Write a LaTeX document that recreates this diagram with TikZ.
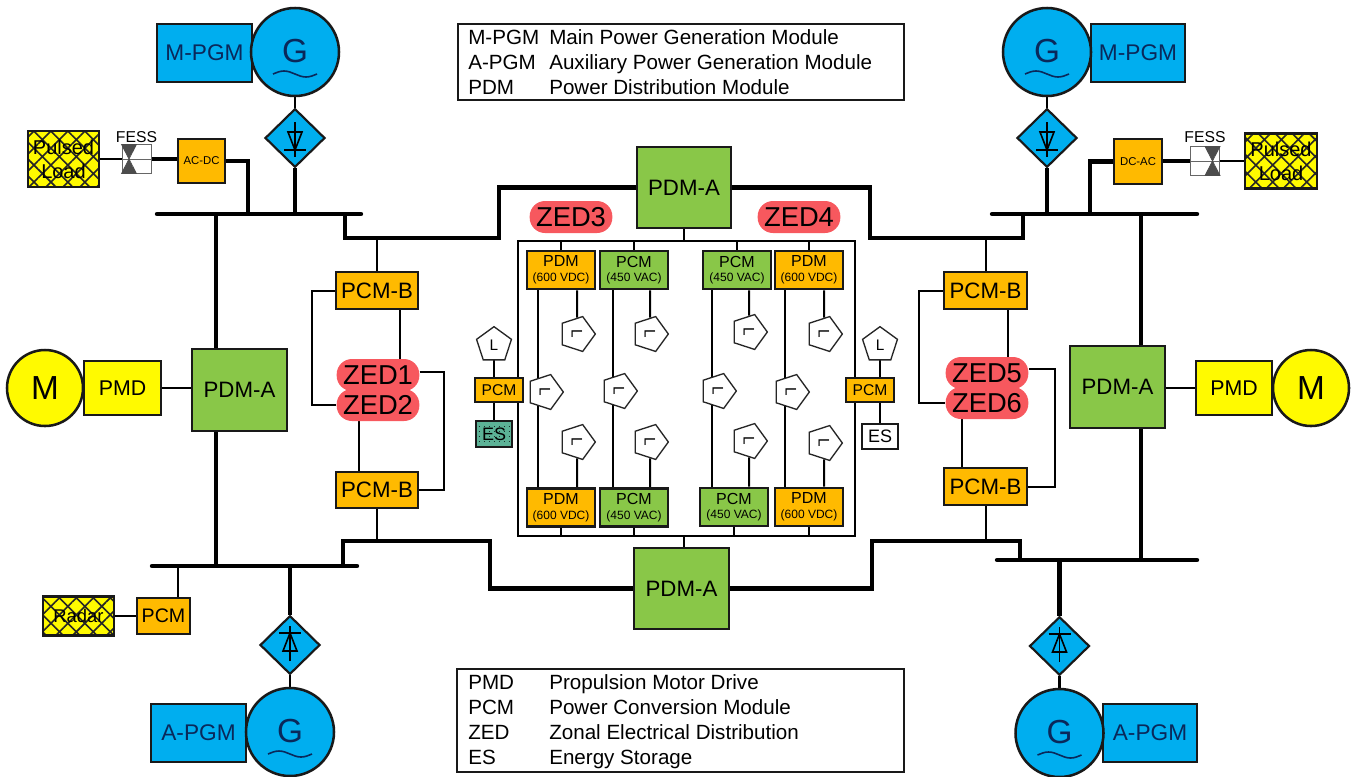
\documentclass[tikz,border=0pt]{standalone}
\usepackage{fontspec}
\setmainfont{Liberation Sans}
\usetikzlibrary{shapes.geometric,patterns.meta,backgrounds}
\definecolor{cpgm}{RGB}{0,174,239}
\definecolor{cconv}{RGB}{255,186,0}
\definecolor{cdist}{RGB}{137,199,72}
\definecolor{czed}{RGB}{247,88,94}
\definecolor{cmotor}{RGB}{255,250,0}
\definecolor{cstore}{RGB}{92,178,150}
\definecolor{cnavy}{RGB}{10,40,90}
\newcommand{\fs}[1]{\fontsize{#1}{#1}\selectfont}
\tikzset{
  pxgrid/.style={x=0.75pt,y=-0.75pt},
  sz/.style 2 args={minimum width=#1*0.75pt,minimum height=#2*0.75pt},
  blk/.style={draw=black!90,line width=1.9pt,inner sep=0pt,align=center},
  gen/.style={circle,draw=black!90,line width=1.9pt,fill=cpgm,inner sep=0pt,minimum size=66pt,font=\fs{25},text=cnavy},
  motor/.style={circle,draw=black!90,line width=1.9pt,fill=cmotor,inner sep=0pt,minimum size=57pt,font=\fs{25}},
  rectf/.style={diamond,draw=black!90,line width=1.6pt,fill=cpgm,inner sep=0pt,minimum width=45pt,minimum height=44pt},
  loadp/.style={regular polygon,regular polygon sides=5,draw=black!85,line width=1pt,fill=white,inner sep=0pt,minimum size=27.5pt,font=\fs{11.5}},
  zed/.style={fill=czed,rounded corners=11.5pt,inner sep=0pt,minimum width=62pt,minimum height=24pt,font=\fs{20.5}},
  hatched/.style={blk,preaction={fill=cmotor},pattern={Hatch[angle=45,distance=9pt,line width=1.2pt]},pattern color=black!85},
  fess/.style={draw=black!60,line width=.6pt,fill=white,inner sep=0pt,minimum size=21.8pt},
  power/.style={line width=3.3pt,line cap=butt},
  feed/.style={line width=1.5pt},
  legtxt/.style={anchor=base west,inner sep=0pt,font=\fs{15.45}}
}

\begin{document}
\begin{tikzpicture}[pxgrid]
    \useasboundingbox (0,0) rectangle (1358,776);
    % generators
    \node[blk,fill=cpgm,text=cnavy,sz={95}{58},font=\fs{17}] (mpgml) at (204.5,53) {M-PGM};
    \node[blk,fill=cpgm,text=cnavy,sz={94}{58},font=\fs{17}] (mpgmr) at (1138,53) {M-PGM};
    \node[blk,fill=cpgm,text=cnavy,sz={95}{58},font=\fs{17}] (apgml) at (198.5,733) {A-PGM};
    \node[blk,fill=cpgm,text=cnavy,sz={94}{58},font=\fs{17}] (apgmr) at (1150,733) {A-PGM};
    \node[gen] (gentl) at (295,52) {\raisebox{1pt}{G}};
    \node[gen] (gentr) at (1047,52) {\raisebox{1pt}{G}};
    \node[gen] (genbl) at (290,732) {\raisebox{1pt}{G}};
    \node[gen] (genbr) at (1059.5,733) {\raisebox{1pt}{G}};
    \node[rectf] (rectl) at (295,138) {};
    \node[rectf] (rectr) at (1047,138) {};
    \node[rectf] (rectbl) at (290,645) {};
    \node[rectf] (rectbr) at (1059.5,646) {};
    % motors
    \node[motor] (motl) at (45,388) {M};
    \node[motor] (motr) at (1311,388) {M};
    \node[blk,fill=cmotor,sz={77}{54},font=\fs{16}] (pmdl) at (122.5,388) {PMD};
    \node[blk,fill=cmotor,sz={76}{54},font=\fs{16}] (pmdr) at (1234,388) {PMD};
    % distribution modules
    \node[blk,fill=cdist,sz={95}{82},font=\fs{16.7}] (pdml) at (239.5,390) {PDM-A};
    \node[blk,fill=cdist,sz={95}{82},font=\fs{16.7}] (pdmr) at (1117.5,387) {PDM-A};
    \node[blk,fill=cdist,sz={94}{81},font=\fs{16.7}] (pdmt) at (684,187.5) {PDM-A};
    \node[blk,fill=cdist,sz={95}{81},font=\fs{16.7}] (pdmb) at (681.5,588.5) {PDM-A};
    % pcm-b and zones
    \node[blk,fill=cconv,sz={82}{37},font=\fs{16.7}] (pcmbtl) at (377,290.5) {PCM-B};
    \node[blk,fill=cconv,sz={82}{36},font=\fs{16.7}] (pcmbbl) at (377,490) {PCM-B};
    \node[blk,fill=cconv,sz={83}{37},font=\fs{16.7}] (pcmbtr) at (985.5,290.5) {PCM-B};
    \node[blk,fill=cconv,sz={83}{37},font=\fs{16.7}] (pcmbbr) at (985.5,486.5) {PCM-B};
    \node[zed] (zedb) at (378,405) {ZED2};
    \node[zed] (zeda) at (378,375) {ZED1};
    \node[zed] (zedf) at (987,403) {ZED6};
    \node[zed] (zede) at (987,373) {ZED5};
    \node[zed] (zedc) at (571,217) {ZED3};
    \node[zed] (zedd) at (799,217) {ZED4};
    % centre modules
    \foreach \nm/\x/\y/\t/\f/\s in {
      topa/561/270/PDM/cconv/600 VDC,topb/634/270/PCM/cdist/450 VAC,
      topc/737/270/PCM/cdist/450 VAC,topd/809/270/PDM/cconv/600 VDC,
      bota/561/507.5/PDM/cconv/600 VDC,botb/634/507.5/PCM/cdist/450 VAC,
      botc/734/507/PCM/cdist/450 VAC,botd/809/507/PDM/cconv/600 VDC}
      \node[blk,fill=\f,sz={68}{38},font=\fs{12}] (\nm) at (\x,\y) {\t\\[-1pt]{\fs{9}(\s)}};
    \foreach \nm/\x/\y in {
      upa/577/334,upb/650/334,upc/749/332,upd/824/334,
      loa/577/442,lob/650/442,loc/749/441,lod/824/443,
      mida/545/392,midb/619/391,midc/718/391,midd/791/392}
      \node[loadp,rotate=-90] (\nm) at (\x,\y) {L};
    % side storage
    \node[loadp] (loadl) at (494,345) {L};
    \node[loadp] (loadr) at (880,345) {L};
    \node[blk,fill=cconv,sz={48}{24},font=\fs{11.7}] (pcml) at (499,390) {PCM};
    \node[blk,fill=cconv,sz={48}{24},font=\fs{11.7}] (pcmr) at (870,390) {PCM};
    \node[blk,line width=1.3pt,preaction={fill=cstore},pattern={Dots[distance=4pt,radius=.35pt]},sz={36}{26},font=\fs{13.5}] (esl) at (494,434) {ES};
    \node[blk,line width=1.3pt,fill=white,sz={36}{25},font=\fs{13.5}] (esr) at (880,436.5) {ES};
    % loads
    \node[hatched,sz={71}{56},font=\fs{15}] (pulsel) at (63.5,159) {Pulsed\\[3pt]Load};
    \node[hatched,sz={72}{55},font=\fs{15}] (pulser) at (1281,161) {Pulsed\\[3pt]Load};
    \node[hatched,sz={71}{39},font=\fs{13.8}] (radar) at (78.5,616) {Radar};
    \node[blk,fill=cconv,sz={53}{36},font=\fs{14.7}] (pcmrad) at (163.5,616) {PCM};
    \node[blk,fill=cconv,sz={47}{44},font=\fs{8.5}] (acdc) at (201.5,161) {AC-DC};
    \node[blk,fill=cconv,sz={48}{45},font=\fs{8.5}] (dcac) at (1138,161.5) {DC-AC};
    \node[fess] (fessl) at (136.5,159) {};
    \node[fess] (fessr) at (1205,161) {};
    \node[inner sep=0pt,font=\fs{11.8}] (fesstl) at (136.5,137) {FESS};
    \node[inner sep=0pt,font=\fs{11.8}] (fesstr) at (1205,137) {FESS};
    % legends
    \node[draw=black!90,line width=1.5pt,fill=white,sz={446}{76}] (keyt) at (681,62) {};
    \node[draw=black!90,line width=1.5pt,fill=white,sz={447}{103}] (keyb) at (680.5,720.5) {};
    \foreach \y/\a/\b in {44/M-PGM/Main Power Generation Module,69/A-PGM/Auxiliary Power Generation Module,94/PDM/Power Distribution Module,
      689.5/PMD/Propulsion Motor Drive,714.5/PCM/Power Conversion Module,739.5/ZED/Zonal Electrical Distribution,764.5/ES/Energy Storage} {
      \node[legtxt] (abbr\y) at (468,\y) {\a};
      \node[legtxt] (name\y) at (549,\y) {\b};
    }
    % connectors behind the blocks
    \coordinate (bustlw) at (157,214);
    \coordinate (bustle) at (361,214);
    \coordinate (bustrw) at (992,214);
    \coordinate (bustre) at (1197,214);
    \coordinate (busblw) at (152,566);
    \coordinate (busble) at (357,566);
    \coordinate (busbrw) at (997,560);
    \coordinate (busbre) at (1197,560);
    \coordinate (spinel) at (216,214);
    \coordinate (spiner) at (1141,214);
    \coordinate (stla) at (345,214);
    \coordinate (stlb) at (499,238);
    \coordinate (strb) at (870,238);
    \coordinate (stra) at (1023,214);
    \coordinate (sbla) at (343,566);
    \coordinate (sblb) at (490,541);
    \coordinate (sbrb) at (872,541);
    \coordinate (sbra) at (1020,560);
    \coordinate (linkl) at (312,350);
    \coordinate (linkla) at (444,430);
    \coordinate (linkr) at (919,350);
    \coordinate (linkra) at (1055,430);
    \coordinate (framenw) at (517.5,240.5);
    \coordinate (framese) at (854.5,536);
    \coordinate (tapac) at (248,214);
    \coordinate (tapdc) at (1090,214);
    \coordinate (taprad) at (178,566);
    \begin{scope}[on background layer]
      \draw[feed] (framenw) rectangle (framese);
      \foreach \a/\b in {bustlw/bustle,bustrw/bustre,busblw/busble,busbrw/busbre}
        \draw[power,line cap=round] (\a) -- (\b);
      \draw[power] (spinel) -- (spinel |- busblw);
      \draw[power] (spiner) -- (spiner |- busbrw);
      \draw[power] (stla) |- (stlb) |- (pdmt.west);
      \draw[power] (pdmt.east) -| (strb) -| (stra);
      \draw[power] (sbla) |- (sblb) |- (pdmb.west);
      \draw[power] (pdmb.east) -| (sbrb) -| (sbra);
      \draw[feed,line width=2pt] (gentl) -- (rectl);
      \draw[feed,line width=2pt] (gentr) -- (rectr);
      \draw[feed,line width=2pt] (genbl) -- (rectbl);
      \draw[feed,line width=2pt] (genbr) -- (rectbr);
      \draw[power] (rectl) -- (rectl |- bustlw);
      \draw[power] (rectr) -- (rectr |- bustrw);
      \draw[power] (rectbl) -- (rectbl |- busblw);
      \draw[power] (rectbr) -- (rectbr |- busbrw);
      \draw[feed] (motl) -- (pmdl);
      \draw[feed] (pmdl) -- (pmdl -| pdml.west);
      \draw[feed] (motr) -- (pmdr);
      \draw[feed] (pmdr) -- (pmdr -| pdmr.east);
      \draw[feed] (pcmbtl.north) -- (pcmbtl.north |- stlb);
      \draw[feed] (pcmbbl.south) -- (pcmbbl.south |- sblb);
      \draw[feed] (pcmbtr.north) -- (pcmbtr.north |- strb);
      \draw[feed] (pcmbbr.south) -- (pcmbbr.south |- sbrb);
      \draw[feed] (pcmbtl.west) -| (linkl) |- (zedb.west);
      \draw[feed] ([yshift=2pt]zeda.east) -| (linkla) |- (pcmbbl.east);
      \draw[feed] (pcmbtr.west) -| (linkr) |- (zedf.west);
      \draw[feed] ([yshift=3pt]zede.east) -| (linkra) |- (pcmbbr.east);
      \draw[feed] (400,0 |- pcmbtl.south) -- (400,0 |- zeda.north);
      \draw[feed] (359,0 |- zedb.south) -- (359,0 |- pcmbbl.north);
      \draw[feed] (1008,0 |- pcmbtr.south) -- (1008,0 |- zede.north);
      \draw[feed] (962,0 |- zedf.south) -- (962,0 |- pcmbbr.north);
      \draw[feed] (pdmt.south) -- (pdmt.south |- framenw);
      \draw[feed] (684,0 |- pdmb.north) -- (684,0 |- framese);
      % centre feeders
      \foreach \m in {topa,topb,topc,topd} \draw[feed] (\m.north) -- (\m.north |- framenw);
      \foreach \m in {bota,botb,botc,botd} \draw[feed] (\m.south) -- (\m.south |- framese);
      \foreach \t/\b/\x in {topa/bota/538,topb/botb/613,topc/botc/712,topd/botd/785}
        \draw[feed] (\x,0 |- \t.south) -- (\x,0 |- \b.north);
      \foreach \t/\u in {topa/upa,topb/upb,topc/upc,topd/upd}
        \draw[feed] (\u.center |- \t.south) -- (\u);
      \foreach \b/\u in {bota/loa,botb/lob,botc/loc,botd/lod}
        \draw[feed] (\u.center |- \b.north) -- (\u);
      % storage and loads
      \draw[feed] (494,0 |- loadl.center) -- (494,0 |- esl.north);
      \draw[feed] (880,0 |- loadr.center) -- (880,0 |- esr.north);
      \draw[feed] (pulsel) -- (fessl);
      \draw[power] (fessl) -- (acdc.west |- fessl);
      \draw[power] (acdc.east) -| (tapac);
      \draw[feed] (pulser) -- (fessr);
      \draw[power] (fessr) -- (dcac.east |- fessr);
      \draw[power] (dcac.west) -| (tapdc);
      \draw[feed] (radar) -- (pcmrad);
      \draw[feed,line width=2pt] (taprad |- pcmrad.north) -- (taprad);
    \end{scope}
    % wave on the generators
    \foreach \g in {gentl,gentr,genbl,genbr}
      \draw[cnavy,line width=1.2pt] ([shift={(-22,22)}]\g.center) sin ++(11,-3) cos ++(11,3) sin ++(11,3) cos ++(11,-3);
    % diode symbols
    \foreach \d/\s in {rectl/1,rectr/1,rectbl/-1,rectbr/-1} {
      \begin{scope}[shift={(\d.center)},yscale=\s,line width=1.2pt]
        \draw (0,-16) -- (0,19);
        \draw (-7,-6) -- (7,-6) -- (0,12) -- cycle;
        \draw (-11,12) -- (11,12);
      \end{scope}
    }
    % flywheels
    \foreach \f/\o in {fessl/-7.5,fessr/7.5} {
      \begin{scope}[shift={(\f.center)}]
        \draw[black!60,line width=.6pt] (-14.5,0) -- (14.5,0);
        \draw[black!70,line width=.5pt,pattern={Lines[angle=0,distance=1.5pt,line width=.8pt]},pattern color=black!70]
          ({\o-7.5},-14.5) -- ({\o+7.5},-14.5) -- (\o,0) -- cycle
          ({\o-7.5},14.5) -- ({\o+7.5},14.5) -- (\o,0) -- cycle;
      \end{scope}
    }
\end{tikzpicture}
\end{document}
